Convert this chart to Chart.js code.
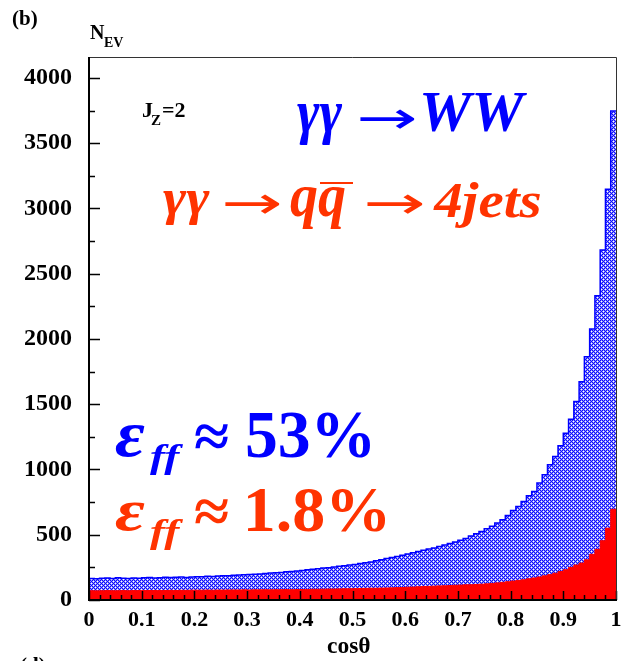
<!DOCTYPE html>
<html>
<head>
<meta charset="utf-8">
<script src="https://cdn.jsdelivr.net/npm/chart.js@4.4.0/dist/chart.umd.min.js"></script>
<style>
  html, body { margin: 0; padding: 0; background: #fff; }
  #wrap { width: 624px; height: 661px; position: relative; }
</style>
</head>
<body>
<div id="wrap"><canvas id="histo"></canvas></div>
<script>
// cos(theta) distribution, 100 bins of 0.01 between 0 and 1
const binWidth = 0.01;

// gamma gamma -> WW events per bin
const wwCounts = [
  165, 163, 166, 168, 165, 170, 167, 164, 168, 166,
  170, 172, 169, 171, 175, 172, 174, 176, 173, 177,
  179, 178, 181, 180, 184, 186, 185, 189, 191, 193,
  196, 198, 200, 203, 206, 208, 211, 216, 219, 222,
  226, 231, 236, 240, 245, 248, 252, 258, 262, 268,
  272, 279, 285, 292, 300, 309, 318, 326, 334, 343,
  352, 362, 372, 382, 390, 398, 410, 422, 432, 445,
  458, 472, 490, 507, 525, 545, 565, 590, 615, 648,
  686, 716, 755, 798, 831, 896, 959, 1036, 1099, 1181,
  1278, 1385, 1520, 1673, 1863, 2077, 2331, 2681, 3146, 3747
];

// gamma gamma -> q qbar -> 4 jets events per bin
const qqCounts = [
  71, 70, 71, 72, 71, 71, 72, 71, 72, 72,
  72, 73, 73, 72, 73, 74, 73, 74, 74, 75,
  75, 75, 76, 75, 76, 76, 77, 77, 77, 78,
  77, 78, 78, 79, 78, 79, 79, 80, 79, 80,
  80, 81, 82, 82, 83, 84, 84, 85, 86, 86,
  87, 88, 89, 90, 90, 91, 92, 93, 95, 96,
  98, 99, 101, 103, 104, 106, 108, 109, 111, 113,
  114, 116, 117, 119, 121, 124, 127, 131, 135, 140,
  145, 150, 155, 162, 169, 176, 185, 194, 205, 218,
  232, 250, 268, 283, 308, 350, 388, 454, 550, 695
];

const xMajorTicks = [0, 0.1, 0.2, 0.3, 0.4, 0.5, 0.6, 0.7, 0.8, 0.9, 1];
const yMajorTicks = [0, 500, 1000, 1500, 2000, 2500, 3000, 3500, 4000];
const xMinorStep = 0.02;
const yMinorStep = 250;
const yMax = 4160;

// histogram outline as a step line: value of bin i spans [i*w, (i+1)*w]
function toSteps(counts) {
  const pts = counts.map((c, i) => ({ x: i * binWidth, y: c }));
  pts.push({ x: counts.length * binWidth, y: counts[counts.length - 1] });
  return pts;
}

// blue cross-hatch fill
function makeHatch() {
  const tile = document.createElement('canvas');
  tile.width = 4;
  tile.height = 4;
  const t = tile.getContext('2d');
  t.fillStyle = '#0c0cff';
  t.fillRect(0, 0, 4, 4);
  t.fillStyle = '#9090ff';
  [[0, 1], [2, 1], [1, 0], [1, 2], [2, 3], [0, 3], [3, 2], [3, 0]].forEach(p => t.fillRect(p[0], p[1], 1, 1));
  t.fillStyle = '#ffffff';
  t.fillRect(1, 1, 1, 1);
  t.fillRect(3, 3, 1, 1);
  return t.createPattern(tile, 'repeat');
}

// draw text so that its ink fills the box x0..x1, y0..y1
function fitBox(ctx, text, font, color, x0, y0, x1, y1) {
  ctx.save();
  ctx.font = font;
  ctx.fillStyle = color;
  ctx.textAlign = 'left';
  ctx.textBaseline = 'alphabetic';
  const m = ctx.measureText(text);
  const w = m.actualBoundingBoxLeft + m.actualBoundingBoxRight;
  const h = m.actualBoundingBoxAscent + m.actualBoundingBoxDescent;
  const sx = (x1 - x0) / w;
  const sy = (y1 - y0) / h;
  ctx.translate(x0 + m.actualBoundingBoxLeft * sx, y0 + m.actualBoundingBoxAscent * sy);
  ctx.scale(sx, sy);
  ctx.fillText(text, 0, 0);
  ctx.restore();
}

function plainText(ctx, text, font, color, x, baseline) {
  ctx.save();
  ctx.font = font;
  ctx.fillStyle = color;
  ctx.textAlign = 'left';
  ctx.textBaseline = 'alphabetic';
  ctx.fillText(text, x, baseline);
  ctx.restore();
}

const SERIF = "'Liberation Serif', 'Times New Roman', serif";
const ARROW = "'DejaVu Sans', sans-serif";
const BLUE = '#0000ff';
const ORANGE = '#ff3300';

// frame, inward tick marks and the annotations
const framePlugin = {
  id: 'frameAndText',
  afterDraw(chart) {
    const { ctx, chartArea: a, scales: { x, y } } = chart;
    ctx.save();
    ctx.strokeStyle = '#000';

    // ticks
    ctx.lineWidth = 1.5;
    ctx.beginPath();
    for (let v = 0; v <= 1.0001; v += xMinorStep) {
      const px = Math.round(x.getPixelForValue(v)) + 0.5;
      const major = Math.abs(v * 10 - Math.round(v * 10)) < 1e-6;
      ctx.moveTo(px, a.bottom);
      ctx.lineTo(px, a.bottom - (major ? 9 : 5));
    }
    for (let v = 0; v <= yMax; v += yMinorStep) {
      const py = Math.round(y.getPixelForValue(v)) + 0.5;
      const major = v % 500 === 0;
      ctx.moveTo(a.left, py);
      ctx.lineTo(a.left + (major ? 11 : 6), py);
    }
    ctx.stroke();

    // thin top/right frame
    ctx.lineWidth = 1;
    ctx.strokeStyle = '#333';
    ctx.beginPath();
    ctx.moveTo(a.left, a.top + 0.5);
    ctx.lineTo(a.right + 0.5, a.top + 0.5);
    ctx.lineTo(a.right + 0.5, a.bottom);
    ctx.stroke();

    // heavy axes
    ctx.lineWidth = 2;
    ctx.strokeStyle = '#000';
    ctx.beginPath();
    ctx.moveTo(a.left, a.top);
    ctx.lineTo(a.left, a.bottom);
    ctx.lineTo(a.right + 1, a.bottom);
    ctx.stroke();
    ctx.restore();

    // panel label and axis titles
    plainText(ctx, '(b)', 'bold 21px ' + SERIF, '#000', 12, 25);
    plainText(ctx, '(d)', 'bold 21px ' + SERIF, '#000', 20, 672);
    plainText(ctx, 'N', 'bold 20px ' + SERIF, '#000', 90, 39);
    plainText(ctx, 'EV', 'bold 14px ' + SERIF, '#000', 104, 47);
    fitBox(ctx, 'cosθ', 'bold 24px ' + SERIF, '#000', 327, 637, 370, 653);

    // J_Z = 2
    plainText(ctx, 'J', 'bold 22px ' + SERIF, '#000', 142, 117);
    plainText(ctx, 'Z', 'bold 15px ' + SERIF, '#000', 151, 125);
    plainText(ctx, '=2', 'bold 22px ' + SERIF, '#000', 162, 117);

    // process labels
    fitBox(ctx, 'γγ', 'bold italic 58px ' + SERIF, BLUE, 297, 105, 343, 145);
    fitBox(ctx, '→', '60px ' + ARROW, BLUE, 360, 109, 415, 129);
    fitBox(ctx, 'WW', 'bold italic 58px ' + SERIF, BLUE, 423, 93, 527, 132);

    fitBox(ctx, 'γγ', 'bold italic 54px ' + SERIF, ORANGE, 163, 190, 210, 225);
    fitBox(ctx, '→', '60px ' + ARROW, ORANGE, 225, 194, 280, 214);
    fitBox(ctx, 'qq', 'bold italic 54px ' + SERIF, ORANGE, 290, 187, 345, 230);
    ctx.save();
    ctx.fillStyle = ORANGE;
    ctx.fillRect(320, 182, 33, 2);
    ctx.restore();
    fitBox(ctx, '→', '60px ' + ARROW, ORANGE, 367, 194, 423, 214);
    fitBox(ctx, '4jets', 'bold italic 50px ' + SERIF, ORANGE, 433, 182, 540, 228);

    // selection efficiencies
    fitBox(ctx, 'ε', 'bold italic 68px ' + SERIF, BLUE, 115, 425, 145, 457);
    fitBox(ctx, 'ff', 'bold italic 36px ' + SERIF, BLUE, 150, 445, 183, 475);
    fitBox(ctx, '≈', 'bold 64px ' + SERIF, BLUE, 195, 423, 228, 448);
    fitBox(ctx, '53%', 'bold 64px ' + SERIF, BLUE, 247, 413, 370, 458);

    fitBox(ctx, 'ε', 'bold italic 68px ' + SERIF, ORANGE, 115, 502, 145, 531);
    fitBox(ctx, 'ff', 'bold italic 36px ' + SERIF, ORANGE, 150, 520, 183, 550);
    fitBox(ctx, '≈', 'bold 64px ' + SERIF, ORANGE, 195, 498, 228, 523);
    fitBox(ctx, '1.8%', 'bold 64px ' + SERIF, ORANGE, 248, 490, 385, 532);
  }
};

new Chart(document.getElementById('histo'), {
  type: 'line',
  data: {
    datasets: [
      {
        label: 'qq',
        data: toSteps(qqCounts),
        stepped: 'before',
        borderColor: '#ff0000',
        borderWidth: 1,
        backgroundColor: '#ff0000',
        fill: 'origin',
        pointRadius: 0,
        order: 0
      },
      {
        label: 'WW',
        data: toSteps(wwCounts),
        stepped: 'before',
        borderColor: '#0000ff',
        borderWidth: 1.5,
        backgroundColor: makeHatch(),
        fill: 'origin',
        pointRadius: 0,
        order: 1
      }
    ]
  },
  options: {
    responsive: true,
    maintainAspectRatio: false,
    animation: false,
    layout: { padding: { top: 57, right: 8, left: 0, bottom: 0 } },
    plugins: {
      legend: { display: false },
      tooltip: { enabled: false }
    },
    scales: {
      x: {
        type: 'linear',
        min: 0,
        max: 1,
        afterFit: s => {
          s.height = 61;
          s.paddingLeft = 0;
          s.paddingRight = 0;
        },
        afterBuildTicks: s => { s.ticks = xMajorTicks.map(v => ({ value: v })); },
        grid: { display: false, drawTicks: false },
        border: { display: false },
        ticks: {
          color: '#000',
          padding: 7,
          maxRotation: 0,
          autoSkip: false,
          font: { family: SERIF, size: 22, weight: 'bold' },
          callback: v => String(v)
        }
      },
      y: {
        type: 'linear',
        min: 0,
        max: yMax,
        afterFit: s => { s.width = 89; },
        afterBuildTicks: s => { s.ticks = yMajorTicks.map(v => ({ value: v })); },
        grid: { display: false, drawTicks: false },
        border: { display: false },
        ticks: {
          color: '#000',
          padding: 17,
          autoSkip: false,
          font: { family: SERIF, size: 24, weight: 'bold' },
          callback: v => String(v)
        }
      }
    }
  },
  plugins: [framePlugin]
});
</script>
</body>
</html>
